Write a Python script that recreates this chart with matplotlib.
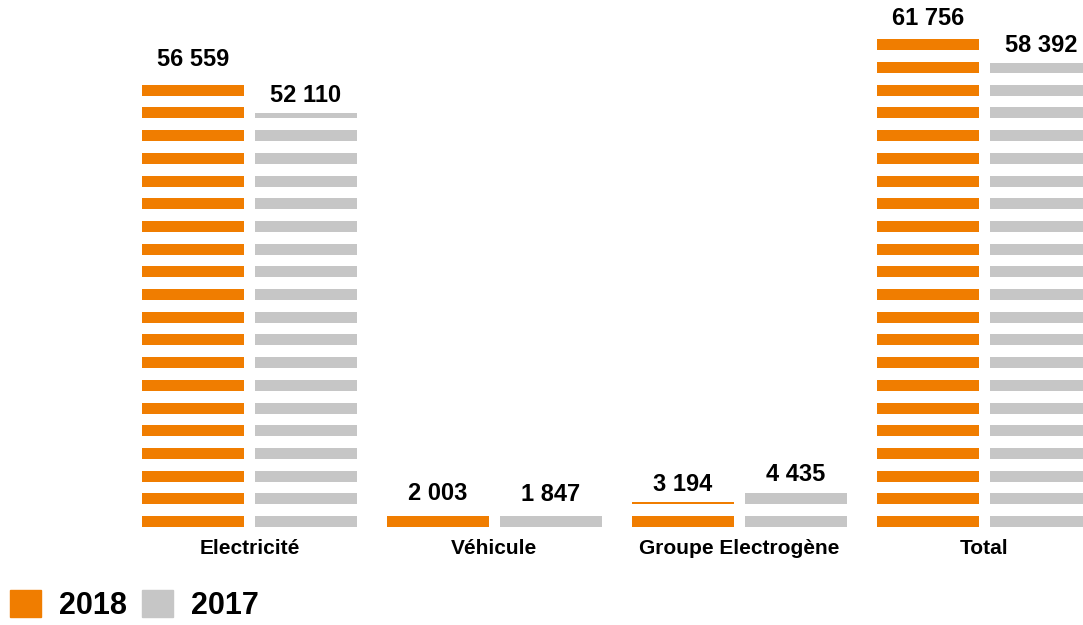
import numpy as np
import matplotlib
matplotlib.use("Agg")
import matplotlib.pyplot as plt
from matplotlib.patches import Patch

# Donnees
categories = ["Electricité", "Véhicule", "Groupe Electrogène", "Total"]
val_2018 = [56559, 2003, 3194, 61756]
val_2017 = [52110, 1847, 4435, 58392]

orange = "#F07D00"
gris = "#C6C6C6"

plt.rcParams["font.family"] = ["Liberation Sans", "DejaVu Sans"]
plt.rcParams["font.weight"] = "bold"

fig = plt.figure(figsize=(10.83, 6.25), dpi=100)
ax = fig.add_axes([0, 98 / 625, 1, 527 / 625])

x = np.arange(len(categories))
largeur = 0.416
decal = 0.23

ax.bar(x - decal, val_2018, largeur, color=orange, zorder=1)
ax.bar(x + decal, val_2017, largeur, color=gris, zorder=1)

ax.set_xlim(-1.018, 3.402)
ymax = 527 / (491 / 61756)
ax.set_ylim(0, ymax)

# bandes blanches pour l'effet "raye"
px = 491 / 61756  # pixels par unite
periode = 22.7 / px
bande = 11.0 / px
k = 0
while k * periode < ymax:
    ax.axhspan(k * periode + bande, (k + 1) * periode, color="white", lw=0, zorder=2)
    k += 1

def fmt(v):
    return f"{v:,}".replace(",", " ")

for xi, v in zip(x - decal, val_2018):
    ax.text(xi, v + 6 / px, fmt(v), ha="center", va="bottom", fontsize=17,
            fontweight="bold", color="black", zorder=3)
for xi, v in zip(x + decal, val_2017):
    ax.text(xi, v + 6 / px, fmt(v), ha="center", va="bottom", fontsize=17,
            fontweight="bold", color="black", zorder=3)

ax.set_xticks(x)
ax.set_xticklabels(categories, fontsize=15, fontweight="bold")
ax.tick_params(axis="x", length=0, pad=9)
ax.set_yticks([])
for s in ax.spines.values():
    s.set_visible(False)

handles = [Patch(color=orange), Patch(color=gris)]
fig.legend(handles, ["2018", "2017"], loc="lower left", bbox_to_anchor=(-0.016, -0.038),
           frameon=False, ncol=2, prop={"size": 22, "weight": "bold"},
           handlelength=1.0, handleheight=1.0, columnspacing=0.5, handletextpad=0.6)

fig.savefig("out.png", dpi=100)
